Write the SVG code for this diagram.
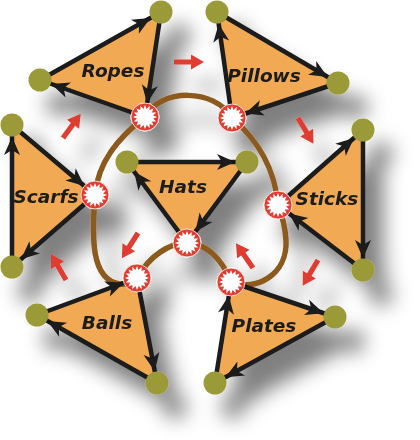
<svg xmlns="http://www.w3.org/2000/svg" xmlns:xlink="http://www.w3.org/1999/xlink" width="420" height="440" viewBox="0 0 420 440">
<defs>
<style>
.tri{fill:#F2A953;stroke:none}
.lbl{font-family:"DejaVu Sans","Liberation Sans",sans-serif;font-weight:bold;font-style:italic;font-size:18.5px;fill:#1a1a1a;text-anchor:middle}
.edge{stroke:#1a1a1a;stroke-width:4.5;fill:none}
.eo{marker-end:url(#headO)}
.es{marker-end:url(#headS)}
.olive{fill:#9A9A38}
.loop{fill:none;stroke:#8B5A1E;stroke-width:5.5}
.flow{fill:#E03C31}
</style>
<filter id="sh" x="-15%" y="-15%" width="150%" height="150%">
<feGaussianBlur in="SourceAlpha" stdDeviation="10"/>
<feOffset dx="18" dy="24" result="b"/>
<feFlood flood-color="#000" flood-opacity="0.5"/>
<feComposite in2="b" operator="in"/>
<feMerge><feMergeNode/><feMergeNode in="SourceGraphic"/></feMerge>
</filter>
<marker id="headO" markerUnits="userSpaceOnUse" viewBox="0 0 18 16" markerWidth="18" markerHeight="16" refX="30" refY="8" orient="auto" overflow="visible">
<path d="M0,0 L18,8 L0,16 L5,8 Z" fill="#1a1a1a"/>
</marker>
<marker id="headS" markerUnits="userSpaceOnUse" viewBox="0 0 18 16" markerWidth="18" markerHeight="16" refX="32" refY="8" orient="auto" overflow="visible">
<path d="M0,0 L18,8 L0,16 L5,8 Z" fill="#1a1a1a"/>
</marker>
<g id="star">
<circle r="14" fill="#E03C31" stroke="#fff" stroke-width="0.8"/>
<polygon fill="#fff" transform="scale(1.15)" points="10.5,0 7.06,1.4 9.7,4.02 5.99,4 7.42,7.42 4,5.99 4.02,9.7 1.4,7.06 0,10.5 -1.4,7.06 -4.02,9.7 -4,5.99 -7.42,7.42 -5.99,4 -9.7,4.02 -7.06,1.4 -10.5,0 -7.06,-1.4 -9.7,-4.02 -5.99,-4 -7.42,-7.42 -4,-5.99 -4.02,-9.7 -1.4,-7.06 0,-10.5 1.4,-7.06 4.02,-9.7 4,-5.99 7.42,-7.42 5.99,-4 9.7,-4.02 7.06,-1.4"/>
</g>
<path id="ra" d="M0,-2.6 L17,-2.6 L17,-7.5 L30,0 L17,7.5 L17,2.6 L0,2.6 Z"/>
</defs>
<rect width="420" height="440" fill="#fff"/>
<g filter="url(#sh)">
<g id="triangles">
<g id="ropes"><polygon class="tri" points="40,80 161,12 145,117"/><text class="lbl" x="113" y="77">Ropes</text></g>
<g id="pillows"><polygon class="tri" points="232,118 217,12 338,83"/><text class="lbl" x="264" y="82">Pillows</text></g>
<g id="sticks"><polygon class="tri" points="278,205 363,130 363,270"/><text class="lbl" x="327" y="205">Sticks</text></g>
<g id="scarfs"><polygon class="tri" points="12,125 95,195 12,267"/><text class="lbl" x="46" y="203">Scarfs</text></g>
<g id="hats"><polygon class="tri" points="127,162 247,162 187,243"/><text class="lbl" x="183" y="193">Hats</text></g>
<g id="balls"><polygon class="tri" points="37,315 137,278 157,383"/><text class="lbl" x="107" y="329">Balls</text></g>
<g id="plates"><polygon class="tri" points="231,282 335,317 215,383"/><text class="lbl" x="264" y="332">Plates</text></g>
</g>
<g id="connectors">
<path class="loop" d="M145,117 C160,88 215,88 232,118 C258,140 275,170 278,205 C282,215 285,225 286,240 C288,275 255,292 231,282 C222,258 205,243 187,243 C170,243 150,255 137,278 C133,281 128,285 120,284 C90,280 92,235 95,195 C98,162 118,138 145,117 Z"/>
<line class="edge eo" x1="40" y1="80" x2="161" y2="12"/>
<line class="edge es" x1="161" y1="12" x2="145" y2="117"/>
<line class="edge eo" x1="145" y1="117" x2="40" y2="80"/>
<line class="edge eo" x1="232" y1="118" x2="217" y2="12"/>
<line class="edge eo" x1="217" y1="12" x2="338" y2="83"/>
<line class="edge es" x1="338" y1="83" x2="232" y2="118"/>
<line class="edge eo" x1="278" y1="205" x2="363" y2="130"/>
<line class="edge eo" x1="363" y1="130" x2="363" y2="270"/>
<line class="edge es" x1="363" y1="270" x2="278" y2="205"/>
<line class="edge es" x1="12" y1="125" x2="95" y2="195"/>
<line class="edge eo" x1="95" y1="195" x2="12" y2="267"/>
<line class="edge eo" x1="12" y1="267" x2="12" y2="125"/>
<line class="edge eo" x1="127" y1="162" x2="247" y2="162"/>
<line class="edge es" x1="247" y1="162" x2="187" y2="243"/>
<line class="edge eo" x1="187" y1="243" x2="127" y2="162"/>
<line class="edge es" x1="37" y1="315" x2="137" y2="278"/>
<line class="edge eo" x1="137" y1="278" x2="157" y2="383"/>
<line class="edge eo" x1="157" y1="383" x2="37" y2="315"/>
<line class="edge eo" x1="231" y1="282" x2="335" y2="317"/>
<line class="edge eo" x1="335" y1="317" x2="215" y2="383"/>
<line class="edge es" x1="215" y1="383" x2="231" y2="282"/>
</g>
<g id="nodes">
<circle id="n-ropes-top" class="olive" cx="161" cy="12" r="11.5"/>
<circle id="n-ropes-left" class="olive" cx="40" cy="80" r="11.5"/>
<circle id="n-pillows-top" class="olive" cx="217" cy="12" r="11.5"/>
<circle id="n-pillows-right" class="olive" cx="338" cy="83" r="11.5"/>
<circle id="n-sticks-top" class="olive" cx="363" cy="130" r="11.5"/>
<circle id="n-sticks-bottom" class="olive" cx="363" cy="270" r="11.5"/>
<circle id="n-scarfs-top" class="olive" cx="12" cy="125" r="11.5"/>
<circle id="n-scarfs-bottom" class="olive" cx="12" cy="267" r="11.5"/>
<circle id="n-hats-left" class="olive" cx="127" cy="162" r="11.5"/>
<circle id="n-hats-right" class="olive" cx="247" cy="162" r="11.5"/>
<circle id="n-balls-left" class="olive" cx="37" cy="315" r="11.5"/>
<circle id="n-balls-bottom" class="olive" cx="157" cy="383" r="11.5"/>
<circle id="n-plates-right" class="olive" cx="335" cy="317" r="11.5"/>
<circle id="n-plates-bottom" class="olive" cx="215" cy="383" r="11.5"/>
<use id="s-ropes" xlink:href="#star" href="#star" x="145" y="117"/>
<use id="s-pillows" xlink:href="#star" href="#star" x="232" y="118"/>
<use id="s-sticks" xlink:href="#star" href="#star" x="278" y="205"/>
<use id="s-plates" xlink:href="#star" href="#star" x="231" y="282"/>
<use id="s-hats" xlink:href="#star" href="#star" x="187" y="243"/>
<use id="s-balls" xlink:href="#star" href="#star" x="137" y="278"/>
<use id="s-scarfs" xlink:href="#star" href="#star" x="95" y="195"/>
</g>
<g id="flow-arrows" class="flow">
<use href="#ra" xlink:href="#ra" transform="translate(174,62)"/>
<use href="#ra" xlink:href="#ra" transform="translate(298,118) rotate(59)"/>
<use href="#ra" xlink:href="#ra" transform="translate(318,260) rotate(120.7)"/>
<use href="#ra" xlink:href="#ra" transform="translate(253,268) rotate(-124.7)"/>
<use href="#ra" xlink:href="#ra" transform="translate(138,233) rotate(122.6)"/>
<use href="#ra" xlink:href="#ra" transform="translate(66,280) rotate(-120)"/>
<use href="#ra" xlink:href="#ra" transform="translate(63,138) rotate(-53.8)"/>
</g>
</g>
</svg>
